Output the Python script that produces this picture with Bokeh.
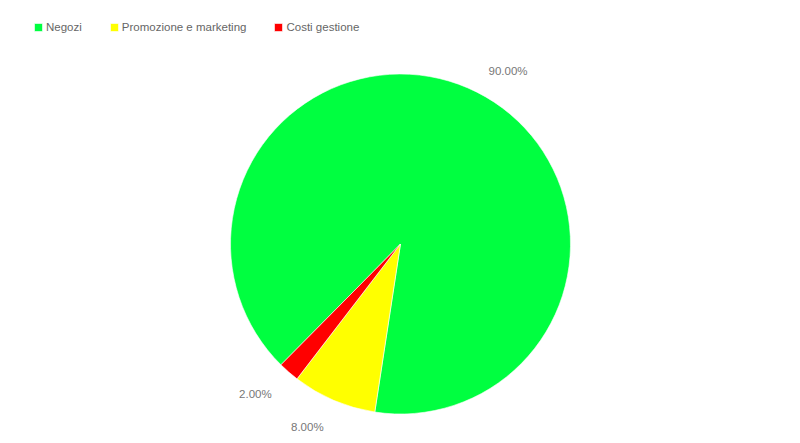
import numpy as np
from bokeh.plotting import figure
from bokeh.models import Range1d, Legend, LegendItem, ColumnDataSource
from bokeh.core.properties import value
from bokeh.embed import file_html
from bokeh.resources import INLINE

categories = ["Negozi", "Promozione e marketing", "Costi gestione"]
shares = [90.0, 8.0, 2.0]
colors = ["#00ff40", "#ffff00", "#ff0000"]

W, H = 784, 435
p = figure(width=W, height=H, output_backend="svg", toolbar_location=None,
           x_range=Range1d(0, W), y_range=Range1d(0, H), min_border=0)
p.axis.visible = False
p.grid.visible = False
p.outline_line_color = None
p.background_fill_color = "white"
p.border_fill_color = "white"

cx, cy, r = 400, H - 243.5, 170
start_deg = 225.3  # first slice begins here, drawn clockwise

fr = np.array(shares) / sum(shares)
ang = fr * 2 * np.pi
cum = np.concatenate([[0], np.cumsum(ang)])
start = np.deg2rad(start_deg) - cum[:-1]
end = np.deg2rad(start_deg) - cum[1:]
mid = (start + end) / 2

src = ColumnDataSource(dict(cat=categories, start=start, end=end, color=colors,
                            label=[f"{s:.2f}%" for s in shares]))
wr = p.wedge(x=cx, y=cy, radius=r, start_angle="start", end_angle="end",
             direction="clock", fill_color="color", line_color="white",
             line_width=0.6, source=src)

lr = 196
lx = cx + lr * np.cos(mid)
ly = cy + lr * np.sin(mid) - 2.5
align = ["left" if np.cos(m) >= 0 else "right" for m in mid]
lsrc = ColumnDataSource(dict(x=lx, y=ly, t=src.data["label"], a=align))
p.text(x="x", y="y", text="t", text_align="a", text_baseline="middle",
       text_font=value("Liberation Sans"), text_font_size="11.5px",
       text_color="#777777", source=lsrc)

items = [LegendItem(label=c, renderers=[wr], index=i) for i, c in enumerate(categories)]
legend = Legend(items=items, orientation="horizontal", location=(33, H - 33),
                glyph_width=10, glyph_height=10, label_height=10,
                label_standoff=3, spacing=27, padding=0, margin=0,
                border_line_color=None, background_fill_alpha=0,
                label_text_font="Liberation Sans", label_text_font_size="11.5px",
                label_text_color="#666666")
p.add_layout(legend)

open("out.html", "w").write(file_html(p, INLINE))
